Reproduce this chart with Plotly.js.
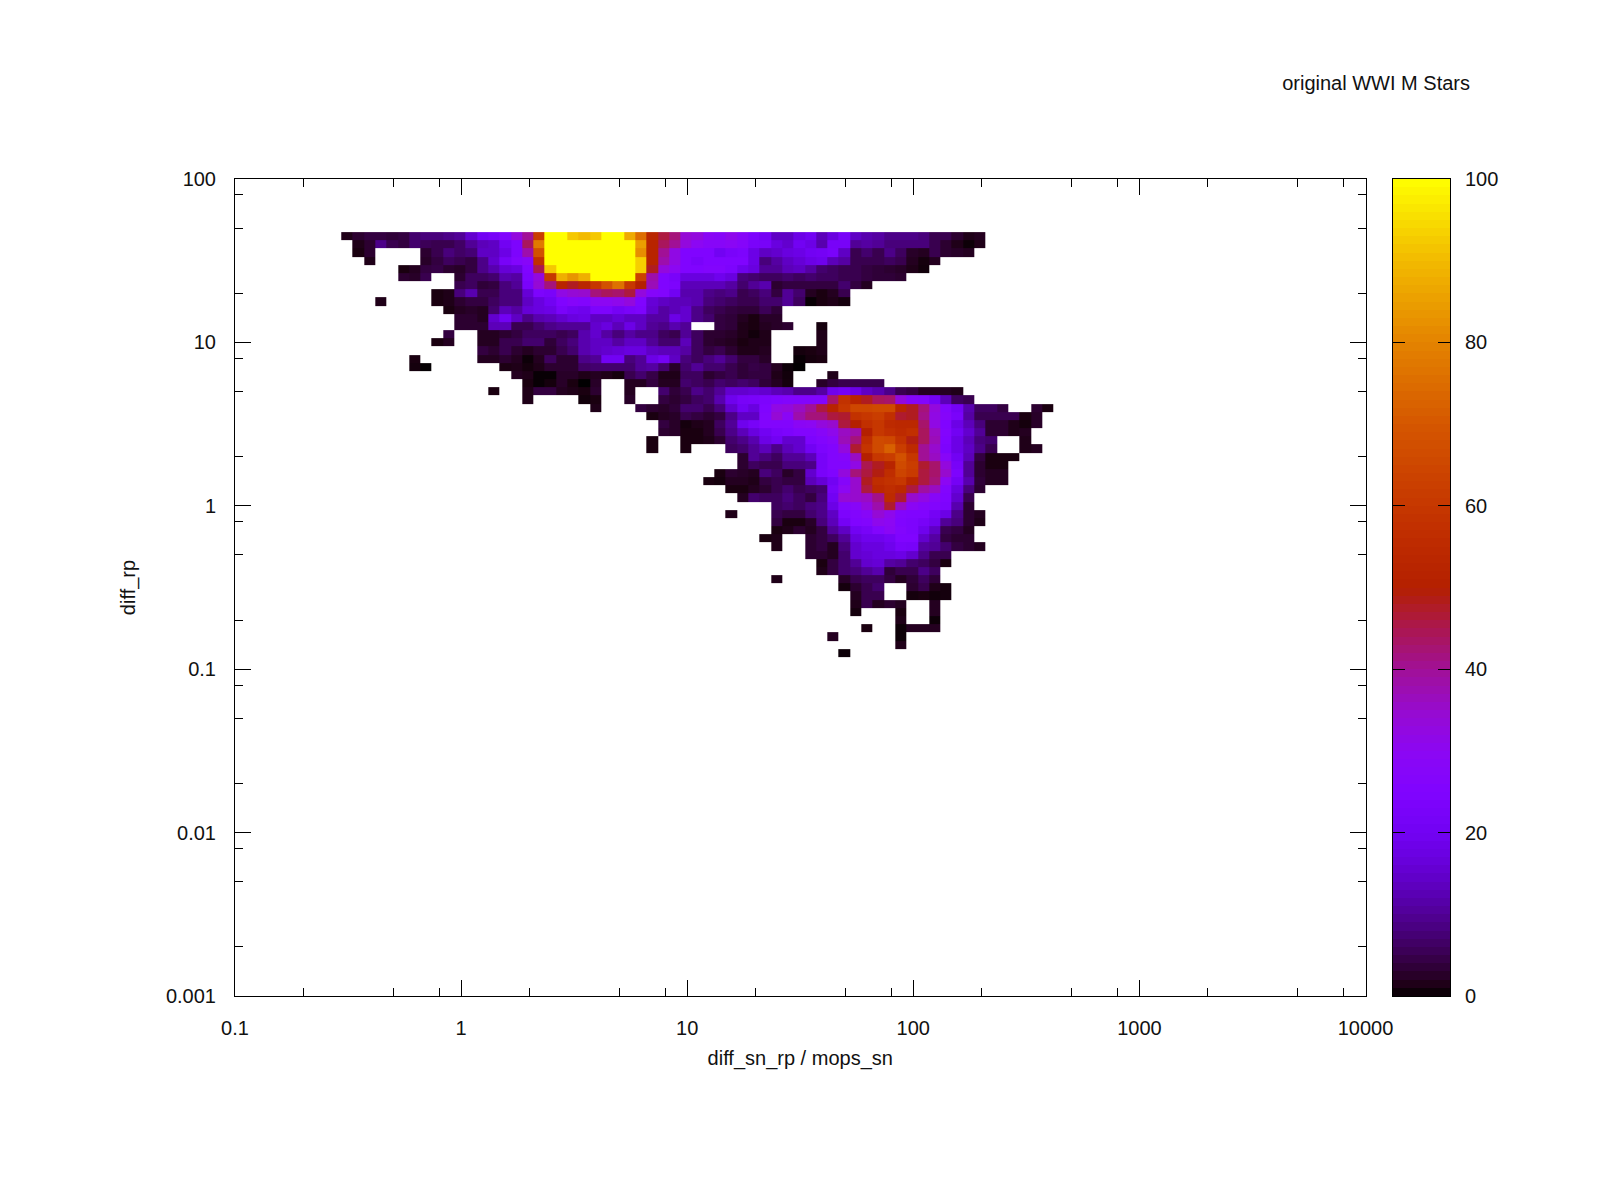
<!DOCTYPE html>
<html>
<head>
<meta charset="utf-8">
<script src="https://cdn.plot.ly/plotly-3.0.1.min.js"></script>
<style>html,body{margin:0;padding:0;background:#fff}</style>
</head>
<body>
<div id="chart" style="width:1600px;height:1200px"></div>
<script>
const _ = null;
// Each row: values by column from rowStarts[i]; top row first. Blank cells are null.
const rowStarts = [0,1,1,2,5,5,10,8,3,9,10,10,9,8,12,6,6,15,16,13,16,22,27,28,28,27,27,35,35,33,32,34,35,38,34,38,38,37,38,41,42,42,38,44,45,45,45,49,46,43,49,44];
const row00 = [1.5,3,4,4,3.5,4,7,8,8,9,10,15,20,22,26,33,40,62,100,100,92,90,92,100,100,87,75,53,46,42,34,33,29,28,31,28,24,21,14,14,18,20,13,17,22,14,12,11,9,9,9,8,5,5,3,1.5,2];
const row01 = [1.5,3,9,5,4,7,5.5,5,5,6.5,10,13,14,20,24,44,78,100,100,100,100,100,100,100,100,85,52,44,40,33,30,28,28,29,27,23,22,17,15,20,18,12,22,22,10,11,10,8,8,8,8,5,3,1.5,0.5,1.5];
const row02 = [1,3,_,_,_,_,3,5,8,6.5,7.5,14,14,18,24,38,68,100,100,100,100,100,100,100,100,82,52,40,32,25,25,25,20,23,24,18,14,15,17,18,20,21,23,14,5,7,5,9,6,2.5,2,5,3,2.5,2];
const row03 = [1.5,_,_,_,_,2.5,4,6,5,4,9,15,22,26,28,57,100,100,100,100,100,100,100,100,93,52,38,32,25,23,25,25,25,25,18,8,11,14,16,18,19,13,11,5,5,5,6,5,2,0.8,2];
const row04 = [1,2,4,4.5,3,2.5,4,9,12,16,17,25,45,92,100,100,100,100,100,100,100,93,48,33,30,25,25,26,26,24,19,17,10,10,13,14,11,7,6,5,5,4,3.5,3,2.5,1.5,0.7];
const row05 = [3,2.5,5,_,_,3,6,6,7,12,11,24,33,60,88,83,88,100,100,100,100,63,38,25,23,17,17,17,19,17,8,7,6,6,7,6,7,6,6,5,5,4,3.5,3.5,3];
const row06 = [5,6,3.5,4,8,10,23,34,42,52,48,53,60,68,76,60,50,37,25,24,13,13,13,13,11,7,10,12,3,4,4,4,4,4,7,4,2];
const row07 = [1,1.5,8,12,5,5,8,8,16,24,23,32,34,35,42,44,43,46,33,27,26,20,12,12,9,8,9,5,6,8,4,10,7,2,1,2,5];
const row08 = [1.5,_,_,_,_,1,1.5,3,4,4,6,8,8,14,17,20,25,27,26,30,30,31,33,25,16,14,13,13,12,8,7,6,5,5,7,7,10,6,0.3,1,1.5,0.8];
const row09 = [1,2,2.5,2,7,13,11,16,17,18,23,20,19,24,24,21,23,24,15,11,13,15,9,6,5,4,3.5,3.5,5.5,3.5];
const row10 = [3,3,2,15,20,14,9,12,13,15,17,18,14,14,16,14,14,11,11,18,15,9,7,4,3.5,2,1,2.5,2.5];
const row11 = [3,3,3,13,13,5,5,7,9,10,10,10,15,17,13,18,14,10,9,12,10,_,_,4,3.5,1.5,1,2,2.5,3,_,_,0.8];
const row12 = [4,_,_,2,2,3,4,6,6,6,5,6,12,15,11,8,11,9,9,6,5,10,6,3,3,2.5,1.5,0.7,1.5,_,_,_,_,1.5];
const row13 = [1,2,_,_,2,2,5,5,7,7,3.5,6,8,12,14,14,11,14,14,10,7,7,13,6,3,2.5,2,1,1.5,1.5,_,_,_,_,1.5];
const row14 = [4,3,5,3,2,3,3,5,7,12,14,15,16,17,17,14,13,13,11,6,4,5,3,1.5,1.5,2,_,_,0.8,1,1.5];
const row15 = [1,_,_,_,_,_,2,2,3,2,0.5,2,6,3,3,9,10,20,20,8,10,18,21,14,8,6,8,10,7,4,4,2.5,_,_,0.3,0.8,1];
const row16 = [0.8,0.2,_,_,_,_,_,_,1.2,1.5,0.8,1.5,3,3,3,6.5,7,7,7,7,10,11,7,2.5,7,10,7,7,5,3.5,4.5,4,2,0.5,0.1];
const row17 = [2,1.5,0.3,0.3,2.5,2.5,1.5,2,1.5,0.8,5,7,4.5,1.5,1.5,6,6,3,4,5,3.5,4,4,1.5,0.7,_,_,_,1.5];
const row18 = [1,0.3,0.8,2.5,1,0.05,2.5,_,_,2,2,4,2,2,7,6,5,7,6,7,6,3.5,2,0.8,_,_,2.5,4,5,5,5,5];
const row19 = [1,_,_,1.5,4,4,2,1.5,1,3,_,_,2,_,_,7,3.5,5,9,7,10,15,15,16,15,13,12,9,9,11,19,21,18,14,12,9,5,4,2,2,2,1.5];
const row20 = [1.5,_,_,_,_,0.7,1,_,_,2.5,_,_,4,3,4,6,7,12,19,22,23,24,25,26,26,26,26,43,58,52,48,44,43,33,27,26,21,13,6,5];
const row21 = [1.5,_,_,_,4,3,2.5,3.5,7,7,5,8,15,20,17,25,32,33,36,40,46,52,60,65,65,66,66,53,48,42,33,26,21,12,6,6,4,_,_,3,1];
const row22 = [1,2,2.5,5,4,3,4,9,14,14,26,34,29,38,42,42,46,47,58,60,62,57,47,48,41,32,27,23,11,5,5,5,5,1,2.5];
const row23 = [4,2.5,0.8,1.5,2,6,10,19,22,26,26,26,29,30,33,35,46,50,57,60,55,54,54,43,32,25,18,13,8,3,3,1.5,0.8,2.5];
const row24 = [3,2.5,1,1,2,5,9,13,17,20,23,24,26,26,28,31,36,38,50,60,57,55,57,44,36,26,20,15,10,3,3,1.5,2];
const row25 = [1,_,_,1,1,1.5,3,7,9,12,18,20,15,15,24,26,28,37,42,56,66,65,58,49,44,37,25,18,13,8,7,_,_,1.5];
const row26 = [1,_,_,1,_,_,_,6,7,10,13,9,13,15,20,24,26,33,47,59,66,72,62,55,40,35,24,18,14,9,5,_,_,1.5,2];
const row27 = [3,10,8,6,10,10,13,22,26,27,36,50,60,62,68,60,40,36,28,20,13,4,1,1,1];
const row28 = [3,6,5,5,8,8,9,22,26,26,32,45,48,52,66,62,47,43,33,22,10,3,1,1];
const row29 = [1,3,2.5,2,8,6,2.5,4,15,23,25,33,42,46,49,56,64,61,46,43,35,24,10,3,2,2];
const row30 = [1,0.8,2,2,1.5,4,5,4,4,13,16,20,27,35,48,56,58,60,52,46,42,30,21,12,3.5,2,2];
const row31 = [1,1,2,3,5,7,5,6,7,22,30,35,46,54,56,54,46,39,36,26,17,8,3];
const row32 = [2,7,6,6,8,6,4,8,20,34,35,36,41,55,47,35,32,28,25,15,5];
const row33 = [6,7,6,8,9,18,26,28,33,38,47,36,29,27,26,24,12,3];
const row34 = [1.5,_,_,_,5,4,4,7,9,14,24,26,28,34,31,26,25,25,21,18,9,3,2];
const row35 = [4,1,1,2.5,8,13,21,25,26,31,30,25,24,22,19,10,8,3,1.5];
const row36 = [1,1.5,3,2,4,10,14,20,22,26,29,26,24,19,14,5,4,2];
const row37 = [1,1.5,_,_,3,4,6,10,17,19,19,21,25,25,15,11,4,3,3];
const row38 = [1.5,_,_,3,4,2,8,15,17,17,19,23,22,11,10,7,4,3,2];
const row39 = [3,3,2,7,15,16,17,17,18,15,9,5,5];
const row40 = [1,4,7,10,15,16,11,10,7,6,4,1];
const row41 = [1.5,4,7,8,10,12,3.5,5,5,9,6];
const row42 = [1.5,_,_,_,_,_,2.5,5,6,6,4,2,3.5,6,3.5];
const row43 = [0.8,3,5,7,_,_,3,5,1.5,0.8];
const row44 = [2,5,5,_,_,0.8,1,0.7,0.8];
const row45 = [1.5,5,2,3,2,_,_,2];
const row46 = [0.8,_,_,_,1,_,_,2];
const row47 = [1.5,_,_,0.5];
const row48 = [1,_,_,0.5,2,2,2];
const row49 = [2,_,_,_,_,_,0.5];
const row50 = [1.5];
const row51 = [0.5];
const rows = [row00,row01,row02,row03,row04,row05,row06,row07,row08,row09,row10,row11,row12,row13,row14,row15,row16,row17,row18,row19,row20,row21,row22,row23,row24,row25,row26,row27,row28,row29,row30,row31,row32,row33,row34,row35,row36,row37,row38,row39,row40,row41,row42,row43,row44,row45,row46,row47,row48,row49,row50,row51];

const xTickVals = [0.1,1,10,100,1000,10000];
const xTickText = ['0.1','1','10','100','1000','10000'];
const yTickVals = [0.001,0.01,0.1,1,10,100];
const yTickText = ['0.001','0.01','0.1','1','10','100'];
const cbTickVals = [0,20,40,60,80,100];
const paletteStops = [
  [0,'#000000'],[0.01,'#1a0010'],[0.02,'#240020'],[0.03,'#2c0030'],[0.05,'#39004f'],[0.07,'#43006d'],
  [0.1,'#510096'],[0.125,'#5a00b4'],[0.15,'#6300ce'],[0.175,'#6b01e3'],[0.2,'#7202f3'],[0.25,'#8004ff'],
  [0.3,'#8c07f3'],[0.35,'#970bce'],[0.4,'#a11096'],[0.45,'#ab174f'],[0.5,'#b42000'],[0.55,'#bd2a00'],
  [0.6,'#c63700'],[0.7,'#d55700'],[0.8,'#e48300'],[0.9,'#f2ba00'],[1,'#ffff00']
];

const FONT = 'Liberation Sans, Arial, sans-serif';
const nCols = 63, firstEdgeX = -0.53, topEdgeY = 1.675, dex = 0.05;
const xEdges = Array.from({length: nCols + 1}, (_v, i) => Math.pow(10, firstEdgeX + dex * i));
const yEdges = Array.from({length: rows.length + 1}, (_v, i) => Math.pow(10, topEdgeY - dex * (rows.length - i)));
const grid = rows.map((r, i) => {
  const line = new Array(nCols).fill(null);
  r.forEach((v, j) => { line[rowStarts[i] + j] = v; });
  return line;
}).reverse();

const cbEdges = Array.from({length: 101}, (_v, i) => i);
const cbLevels = Array.from({length: 100}, (_v, i) => [i + 0.5]);

function logMinor(lo, hi) {
  const out = [];
  for (let e = lo; e < hi; e++) { [2, 5, 8].forEach(m => out.push(m * Math.pow(10, e))); }
  return out;
}
const axisBase = {
  type: 'log', showgrid: false, zeroline: false, showline: true, linecolor: '#000', linewidth: 1,
  mirror: 'allticks', ticks: 'inside', ticklen: 16, tickwidth: 1, tickcolor: '#000', tickmode: 'array',
  tickfont: {family: FONT, size: 20, color: '#111'}, ticklabelstandoff: 14
};

const data = [
  {type: 'heatmap', x: xEdges, y: yEdges, z: grid, xaxis: 'x', yaxis: 'y', zmin: 0, zmax: 100,
   colorscale: paletteStops, showscale: false, hoverongaps: false},
  {type: 'heatmap', x: [0, 1], y: cbEdges, z: cbLevels, xaxis: 'x2', yaxis: 'y2', zmin: 0, zmax: 100,
   colorscale: paletteStops, showscale: false, hoverinfo: 'skip'}
];

const layout = {
  width: 1600, height: 1200, autosize: false,
  margin: {l: 0, r: 0, t: 0, b: 0, pad: 0},
  paper_bgcolor: '#fff', plot_bgcolor: '#fff', showlegend: false,
  title: {text: 'original WWI M Stars', font: {family: FONT, size: 20, color: '#111'},
          x: 1470 / 1600, xanchor: 'right', xref: 'container', y: 1 - 83 / 1200, yanchor: 'middle', yref: 'container'},
  xaxis: Object.assign({}, axisBase, {
    domain: [235 / 1600, 1365.5 / 1600], anchor: 'y', range: [-1, 4],
    tickvals: xTickVals, ticktext: xTickText,
    minor: {tickmode: 'array', tickvals: logMinor(-1, 4), ticks: 'inside', ticklen: 8, tickwidth: 1, tickcolor: '#000', showgrid: false},
    title: {text: 'diff_sn_rp / mops_sn', font: {family: FONT, size: 20, color: '#111'}, standoff: 12}
  }),
  yaxis: Object.assign({}, axisBase, {
    domain: [1 - 996 / 1200, 1 - 179 / 1200], anchor: 'x', range: [-3, 2],
    tickvals: yTickVals, ticktext: yTickText,
    minor: {tickmode: 'array', tickvals: logMinor(-3, 2), ticks: 'inside', ticklen: 8, tickwidth: 1, tickcolor: '#000', showgrid: false},
    title: {text: 'diff_rp', font: {family: FONT, size: 20, color: '#111'}, standoff: 24}
  }),
  xaxis2: {domain: [1393 / 1600, 1450 / 1600], anchor: 'y2', range: [0, 1], showgrid: false, zeroline: false,
    showticklabels: false, ticks: '', showline: true, linecolor: '#000', linewidth: 1, mirror: true},
  yaxis2: {domain: [1 - 996 / 1200, 1 - 179 / 1200], anchor: 'x2', side: 'right', range: [0, 100], showgrid: false, zeroline: false,
    showline: true, linecolor: '#000', linewidth: 1, mirror: 'allticks', ticks: 'inside', ticklen: 12, tickwidth: 1, tickcolor: '#000',
    tickmode: 'array', tickvals: cbTickVals, ticktext: cbTickVals.map(String),
    tickfont: {family: FONT, size: 20, color: '#111'}, ticklabelstandoff: 10}
};

Plotly.newPlot('chart', data, layout, {displayModeBar: false, responsive: false});
</script>
</body>
</html>
